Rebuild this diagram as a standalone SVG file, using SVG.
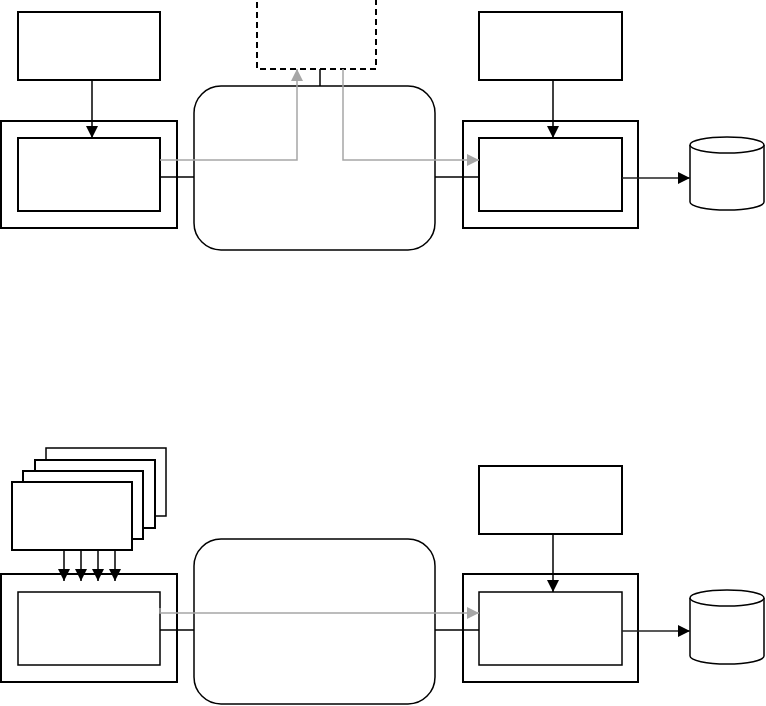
<svg xmlns="http://www.w3.org/2000/svg" width="766" height="706" viewBox="0 0 766 706">
<style>
.n{fill:#fff;stroke:#000;stroke-width:2}
.t{fill:#fff;stroke:#000;stroke-width:1.5}
.k{fill:none;stroke:#000;stroke-width:1.5}
.g{fill:none;stroke:#a6a6a6;stroke-width:1.5}
.d{fill:none;stroke:#222;stroke-width:1.5}
</style>
<defs>
<marker id="ab" markerUnits="userSpaceOnUse" markerWidth="12" markerHeight="12" viewBox="0 0 12 12" refX="12" refY="6" orient="auto"><path d="M0,0 L12,6 L0,12 Z" fill="#000"/></marker>
<marker id="ag" markerUnits="userSpaceOnUse" markerWidth="12" markerHeight="12" viewBox="0 0 12 12" refX="12" refY="6" orient="auto"><path d="M0,0 L12,6 L0,12 Z" fill="#a6a6a6"/></marker>
</defs>
<rect width="766" height="706" fill="#fff"/>

<g id="top-left-source"><rect class="n" x="18" y="12" width="142" height="68"/></g>
<g id="top-left-frame"><rect class="n" x="1" y="121" width="176" height="107"/></g>
<g id="top-left-inner"><rect class="n" x="18" y="138" width="142" height="73"/></g>
<g id="top-dashed"><rect x="257" y="-2" width="119" height="71" fill="#fff" stroke="#000" stroke-width="2" stroke-dasharray="6,4"/></g>
<g id="top-cloud"><rect class="t" x="194" y="86" width="241" height="164" rx="27" ry="27"/></g>
<g id="top-right-source"><rect class="n" x="479" y="12" width="143" height="68"/></g>
<g id="top-right-frame"><rect class="n" x="463" y="121" width="175" height="107"/></g>
<g id="top-right-inner"><rect class="n" x="479" y="138" width="143" height="73"/></g>
<g id="top-db">
<path class="t" d="M690,145 L690,202 A37,8 0 0 0 764,202 L764,145 A37,8 0 0 0 690,145 Z"/>
<path class="t" fill="none" d="M690,145 A37,8 0 0 0 764,145"/>
</g>

<g id="bottom-stack">
<rect class="t" x="46" y="448" width="120" height="68"/>
<rect class="n" x="35" y="460" width="120" height="68"/>
<rect class="n" x="23" y="471" width="120" height="68"/>
<rect class="n" x="12" y="482" width="120" height="68"/>
</g>
<g id="bottom-left-frame"><rect class="n" x="1" y="574" width="176" height="108"/></g>
<g id="bottom-left-inner"><rect class="t" x="18" y="592" width="142" height="73"/></g>
<g id="bottom-cloud"><rect class="t" x="194" y="539" width="241" height="165" rx="27" ry="27"/></g>
<g id="bottom-right-source"><rect class="n" x="479" y="466" width="143" height="68"/></g>
<g id="bottom-right-frame"><rect class="n" x="463" y="574" width="175" height="108"/></g>
<g id="bottom-right-inner"><rect class="t" x="479" y="592" width="143" height="73"/></g>
<g id="bottom-db">
<path class="t" d="M690,598 L690,656 A37,8 0 0 0 764,656 L764,598 A37,8 0 0 0 690,598 Z"/>
<path class="t" fill="none" d="M690,598 A37,8 0 0 0 764,598"/>
</g>

<g id="connectors">
<path class="k" d="M92,80 L92,138" marker-end="url(#ab)"/>
<path class="g" d="M160,160 L297,160 L297,69" marker-end="url(#ag)"/>
<path class="k" stroke-width="2" d="M160,177 L194,177"/>
<path class="k" stroke-width="2" d="M320,69 L320,86"/>
<path class="g" d="M343,69 L343,160 L479,160" marker-end="url(#ag)"/>
<path class="k" stroke-width="2" d="M435,177 L479,177"/>
<path class="k" d="M553,80 L553,138" marker-end="url(#ab)"/>
<path class="d" d="M622,178 L690,178" marker-end="url(#ab)"/>

<path class="k" d="M64,550 L64,581" marker-end="url(#ab)"/>
<path class="k" d="M81,550 L81,581" marker-end="url(#ab)"/>
<path class="k" d="M98,550 L98,581" marker-end="url(#ab)"/>
<path class="k" d="M115,550 L115,581" marker-end="url(#ab)"/>
<path class="g" d="M160,608 L160,613 L479,613" marker-end="url(#ag)"/>
<path class="k" stroke-width="1.2" d="M160,630 L194,630"/>
<path class="k" stroke-width="1.2" d="M435,630 L479,630"/>
<path class="k" d="M553,534 L553,592" marker-end="url(#ab)"/>
<path class="d" d="M622,631 L690,631" marker-end="url(#ab)"/>
</g>
</svg>
